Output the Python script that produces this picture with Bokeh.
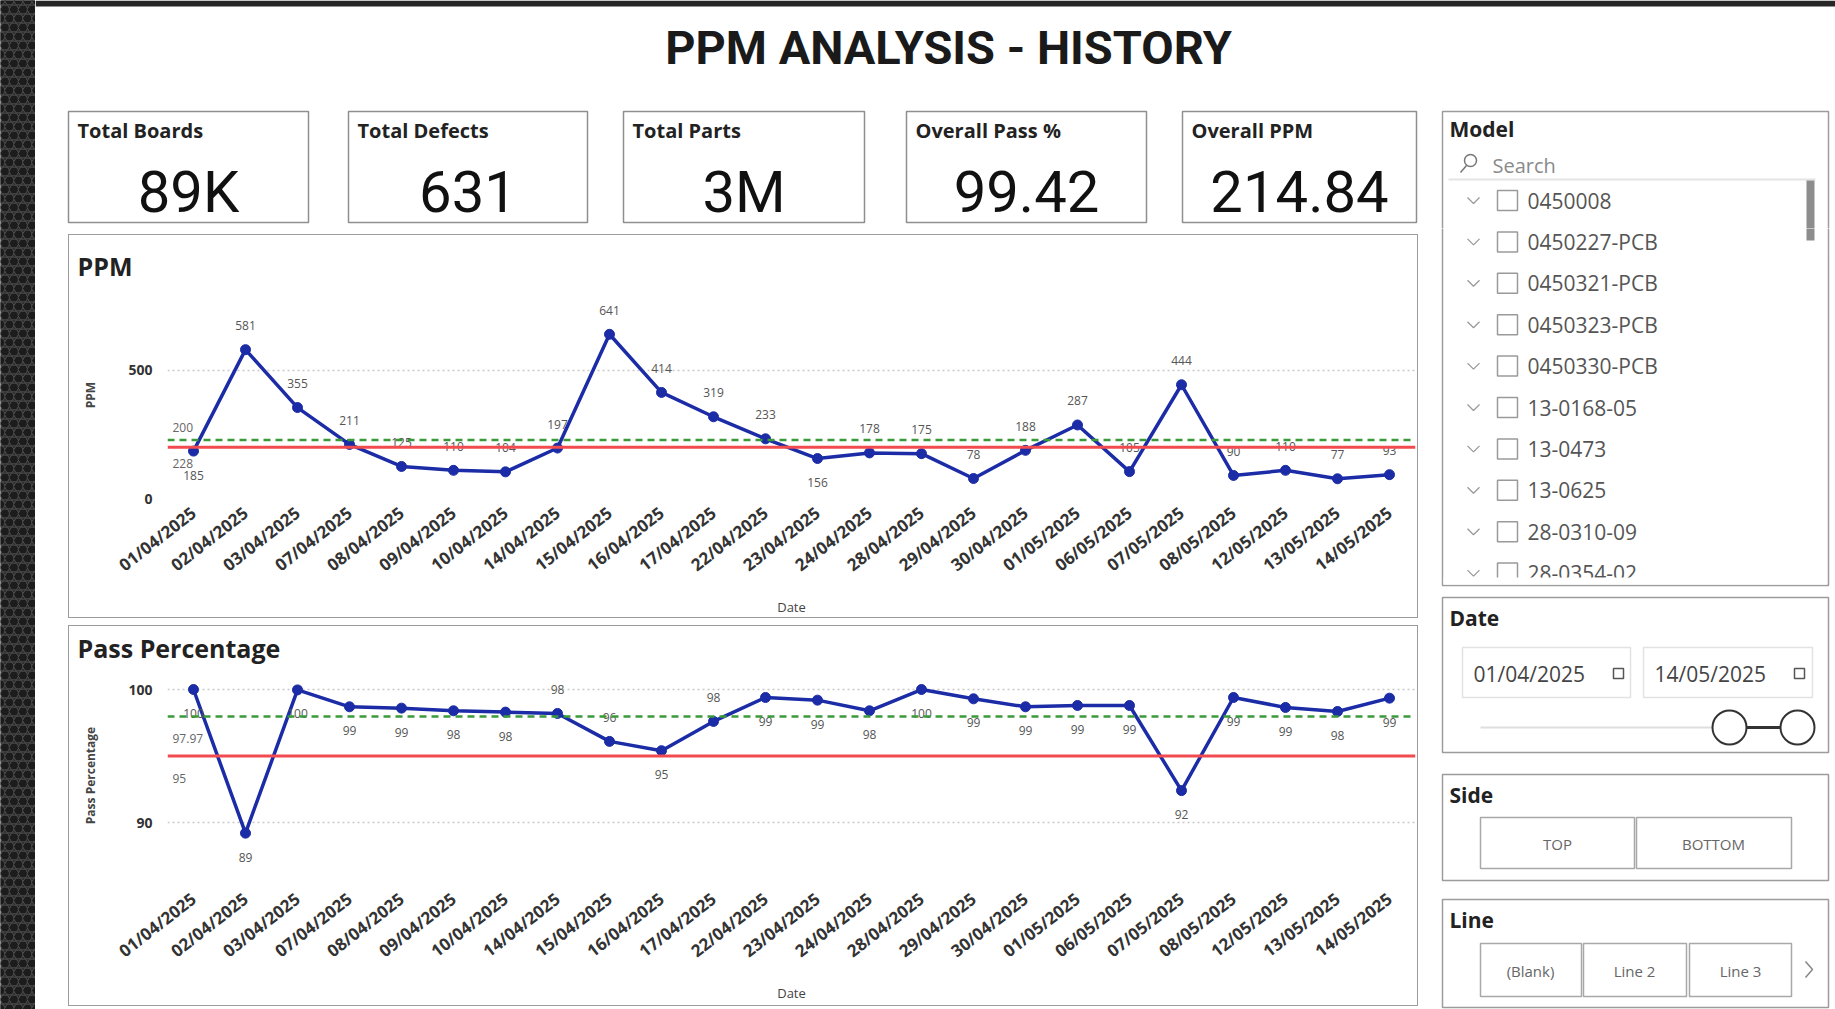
import math
from bokeh.plotting import figure
from bokeh.layouts import row, column
from bokeh.models import ColumnDataSource, FixedTicker, Range1d, FactorRange, Span
from bokeh.core.properties import value
from bokeh.embed import file_html
from bokeh.resources import INLINE

# ---------------- data ----------------
dates = ["01/04/2025", "02/04/2025", "03/04/2025", "07/04/2025", "08/04/2025", "09/04/2025",
         "10/04/2025", "14/04/2025", "15/04/2025", "16/04/2025", "17/04/2025", "22/04/2025",
         "23/04/2025", "24/04/2025", "28/04/2025", "29/04/2025", "30/04/2025", "01/05/2025",
         "06/05/2025", "07/05/2025", "08/05/2025", "12/05/2025", "13/05/2025", "14/05/2025"]
ppm = [185, 581, 355, 211, 125, 110, 104, 197, 641, 414, 319, 233,
       156, 178, 175, 78, 188, 287, 105, 444, 90, 110, 77, 93]
pass_pct = [100.0, 89.2, 99.97, 98.7, 98.6, 98.4, 98.3, 98.2, 96.1, 95.4, 97.6, 99.4,
            99.2, 98.4, 100.0, 99.3, 98.7, 98.8, 98.8, 92.4, 99.4, 98.65, 98.35, 99.35]
ppm_target = 200
ppm_average = 228
pass_target = 95
pass_average = 97.97

card_labels = ["Total Boards", "Total Defects", "Total Parts", "Overall Pass %", "Overall PPM"]
card_values = ["89K", "631", "3M", "99.42", "214.84"]
model_items = ["0450008", "0450227-PCB", "0450321-PCB", "0450323-PCB", "0450330-PCB",
               "13-0168-05", "13-0473", "13-0625", "28-0310-09", "28-0354-02"]
date_from = "01/04/2025"
date_to = "14/05/2025"
side_items = ["TOP", "BOTTOM"]
line_items = ["(Blank)", "Line 2", "Line 3"]
dashboard_title = "PPM ANALYSIS - HISTORY"

# label placement (style, not data)
ppm_below = {0, 12}
pass_above = {7, 8, 10}

FONT = "Open Sans"
BLUE = "#1b2ca6"
RED = "#f24b4f"
GREEN = "#3a9a3a"
BORDER = "#9c9c9c"
DARK = "#262626"


def deco_fig(w, h, xr, yr):
    f = figure(width=w, height=h, x_range=Range1d(*xr), y_range=Range1d(*yr),
               output_backend="svg", toolbar_location=None,
               x_axis_location=None, y_axis_location=None,
               min_border=0, min_border_left=0, min_border_right=0,
               min_border_top=0, min_border_bottom=0)
    f.grid.visible = False
    f.outline_line_color = None
    f.background_fill_color = "white"
    f.border_fill_color = "white"
    return f


def txt(f, x, y, t, size="15px", color="#222", style="normal", align="left", font=FONT):
    # only keep texts that lie fully inside this figure's vertical range
    lo = min(f.y_range.start, f.y_range.end)
    hi = max(f.y_range.start, f.y_range.end)
    half = int(size.replace("px", "")) * 0.6
    keep = [i for i in range(len(t)) if lo + half <= y[i] <= hi - half]
    if not keep:
        return
    f.text(x=[x[i] for i in keep], y=[y[i] for i in keep], text=[t[i] for i in keep],
           text_font=value(font), text_font_size=size,
           text_color=color, text_font_style=style, text_align=align,
           text_baseline="middle")


def line_chart(title, ylabel, vals, yr, ticks, target, average, above_flags,
               height, min_top, min_bottom, standoff, margin, lbl_offsets):
    p = figure(x_range=FactorRange(factors=dates), y_range=Range1d(*yr),
               width=1350, height=height, output_backend="svg", toolbar_location=None,
               min_border_left=98, min_border_right=4, min_border_top=min_top,
               min_border_bottom=min_bottom, margin=margin,
               styles={"border": "1.5px solid " + BORDER, "box-sizing": "border-box"})
    p.outline_line_color = None
    p.title.text = title
    p.title.text_font = FONT
    p.title.text_font_size = "25px"
    p.title.text_font_style = "bold"
    p.title.text_color = "#222"
    p.title.offset = -90
    p.title.standoff = standoff

    p.xgrid.visible = False
    p.ygrid.grid_line_color = "#c8c8c8"
    p.ygrid.grid_line_dash = "2 3"
    p.ygrid.grid_line_width = 1.5
    p.yaxis.ticker = FixedTicker(ticks=ticks)
    for ax in (p.xaxis, p.yaxis):
        ax.axis_line_color = None
        ax.major_tick_line_color = None
        ax.minor_tick_line_color = None
        ax.major_label_text_font = FONT
        ax.major_label_text_color = "#333"
        ax.axis_label_text_font = FONT
        ax.axis_label_text_font_style = "normal"
        ax.axis_label_text_color = "#444"
    p.yaxis.major_label_text_font_size = "14px"
    p.yaxis.major_label_text_font_style = "bold"
    p.yaxis.axis_label = ylabel
    p.yaxis.axis_label_text_font_size = "12px"
    p.yaxis.axis_label_text_font_style = "bold"
    p.yaxis.axis_label_standoff = 26
    p.yaxis.major_label_standoff = 9
    p.xaxis.major_label_orientation = 0.66
    p.xaxis.major_label_text_font_size = "17px"
    p.xaxis.major_label_text_font_style = "bold"
    p.xaxis.major_label_standoff = 6
    p.xaxis.axis_label = "Date"
    p.xaxis.axis_label_text_font_size = "13px"
    p.xaxis.axis_label_standoff = 10

    p.add_layout(Span(location=target, dimension="width", line_color=RED, line_width=3))
    p.add_layout(Span(location=average, dimension="width", line_color=GREEN,
                      line_width=2.5, line_dash="7 5"))

    src = ColumnDataSource(dict(x=dates, y=vals))
    p.line("x", "y", source=src, line_color=BLUE, line_width=3.5)
    p.scatter("x", "y", source=src, size=10, fill_color=BLUE, line_color=BLUE)

    up = [i for i in range(len(vals)) if above_flags(i)]
    dn = [i for i in range(len(vals)) if not above_flags(i)]
    for idx, off in ((up, -24), (dn, 24)):
        s = ColumnDataSource(dict(x=[dates[i] for i in idx], y=[vals[i] for i in idx],
                                  t=[f"{vals[i]:.0f}" for i in idx]))
        p.text("x", "y", text="t", source=s, y_offset=off, text_align="center",
               text_baseline="middle", text_font=value(FONT), text_font_size="12px",
               text_color="#555")
    # reference line labels
    p.text(x=[dates[0], dates[0]], y=[target, average], text=[f"{target}", f"{average}"],
           x_offset=-21, y_offset=lbl_offsets, text_align="left", text_baseline="middle",
           text_font=value(FONT), text_font_size="12px", text_color="#666")
    return p


# ---------------- charts ----------------
ppm_fig = line_chart("PPM", "PPM", ppm, (0, 808), [0, 500], ppm_target, ppm_average,
                     lambda i: i not in ppm_below, 384, 56, 121, 18, (6, 12, 3, 33), [-20, 23])
pass_fig = line_chart("Pass Percentage", "Pass Percentage", pass_pct, (85.34, 101.73), [90, 100],
                      pass_target, pass_average, lambda i: i in pass_above, 381, 40, 123, 4,
                      (4, 12, 3, 33), [22, 22])


# ---------------- header: title + cards ----------------
def draw_header(f):
    f.quad(left=[35], right=[1835], top=[0], bottom=[6], fill_color=DARK, line_color=None)
    txt(f, [948], [47], [dashboard_title], size="47px", color="#1a1a1a",
        style="bold", align="center", font="Roboto")
    c_left = [68, 348, 623, 906, 1182]
    c_right = [308, 587, 864, 1146, 1416]
    f.quad(left=c_left, right=c_right, top=[111] * 5, bottom=[222] * 5,
           fill_color="white", line_color="#8f8f8f", line_width=1.5)
    txt(f, [l + 9 for l in c_left], [130] * 5, card_labels, size="20px", style="bold", color="#222")
    txt(f, [(l + r) / 2 for l, r in zip(c_left, c_right)], [191] * 5, card_values,
        size="58px", color="#111", align="center", font="Roboto")


# ---------------- slicers ----------------
def draw_slicers(sl, lower):
    sl.quad(left=[1442] * 4, right=[1828] * 4, top=[111, 597, 774, 899],
            bottom=[585, 752, 880, 1007], fill_color="white", line_color=BORDER, line_width=1.5)
    txt(sl, [1449] * 4, [128, 617, 794, 919], ["Model", "Date", "Side", "Line"],
        size="21px", style="bold", color="#222")
    # search
    sl.scatter([1470], [160], size=12, marker="circle", fill_color=None, line_color="#777",
               line_width=1.5)
    sl.segment(x0=[1466], y0=[165], x1=[1460], y1=[172], line_color="#777", line_width=1.5)
    txt(sl, [1492], [165], ["Search"], size="20px", color="#8a8a8a")
    sl.segment(x0=[1448], y0=[179], x1=[1815], y1=[179], line_color="#e4e4e4", line_width=2)
    item_y = [200 + 41.4 * i for i in range(len(model_items))]
    txt(sl, [1527] * (len(model_items) - 1), item_y[:-1], model_items[:-1], size="21px", color="#555")
    if lower:
        sl.text(x=[1527], y=[item_y[-1]], text=[model_items[-1]], text_font=value(FONT),
                text_font_size="21px", text_color="#555", text_baseline="middle",
                text_align="left")
    sl.scatter([1507] * len(model_items), item_y, marker="square", size=20, fill_color="white",
               line_color="#9a9a9a", line_width=1.5)
    sl.multi_line(xs=[[1467, 1473, 1479] for _ in item_y],
                  ys=[[y - 3, y + 3, y - 3] for y in item_y], line_color="#999", line_width=1.3)
    sl.quad(left=[1443], right=[1826], top=[577], bottom=[584], fill_color="white", line_color=None)
    sl.quad(left=[1806], right=[1814], top=[180], bottom=[240], fill_color="#8d8d8d", line_color=None)
    # Date
    sl.quad(left=[1462, 1643], right=[1630, 1812], top=[647, 647], bottom=[697, 697],
            fill_color="white", line_color="#e2e2e2", line_width=1.5)
    txt(sl, [1473, 1654], [673, 673], [date_from, date_to], size="21px", color="#444")
    sl.quad(left=[1613, 1794], right=[1623, 1804], top=[668, 668], bottom=[678, 678],
            fill_color="white", line_color="#555", line_width=1.5)
    sl.segment(x0=[1480], y0=[727], x1=[1720], y1=[727], line_color="#dedede", line_width=2)
    sl.segment(x0=[1729], y0=[727], x1=[1797], y1=[727], line_color="#333", line_width=3)
    sl.scatter([1729, 1797], [727, 727], size=34, marker="circle", fill_color="white",
               line_color="#333", line_width=2)
    # Side
    sl.quad(left=[1480, 1636], right=[1634, 1791], top=[817, 817], bottom=[868, 868],
            fill_color="white", line_color="#a8a8a8", line_width=1.5)
    txt(sl, [1557, 1713], [843, 843], side_items, size="15px", color="#666", align="center")
    # Line
    sl.quad(left=[1480, 1583, 1689], right=[1581, 1686, 1791], top=[943] * 3, bottom=[996] * 3,
            fill_color="white", line_color="#a8a8a8", line_width=1.5)
    txt(sl, [1530, 1634, 1740], [970] * 3, line_items, size="15px", color="#666", align="center")
    sl.line([1805, 1812, 1805], [961, 969, 977], line_color="#888", line_width=1.5)


header = deco_fig(1800, 228, (35, 1835), (228, 0))
draw_header(header)
draw_slicers(header, False)

slicer_fig = deco_fig(405, 781, (1430, 1835), (1009, 228))
draw_slicers(slicer_fig, True)

# ---------------- left dark strip ----------------
strip = deco_fig(35, 1009, (0, 35), (1009, 0))
strip.background_fill_color = DARK
strip.border_fill_color = DARK
hx, hy = [], []
for r in range(0, 115):
    for c in range(0, 5):
        hx.append(c * 9 + (4.5 if r % 2 else 0))
        hy.append(r * 9)
strip.scatter(hx, hy, marker="hex", size=10, fill_color="#1c1c1c", line_color="#505050",
              line_width=1)

charts = column(ppm_fig, pass_fig, spacing=0)
main = column(header, row(charts, slicer_fig, spacing=0), spacing=0)
layout = row(strip, main, spacing=0)

open("out.html", "w").write(file_html(layout, INLINE))
